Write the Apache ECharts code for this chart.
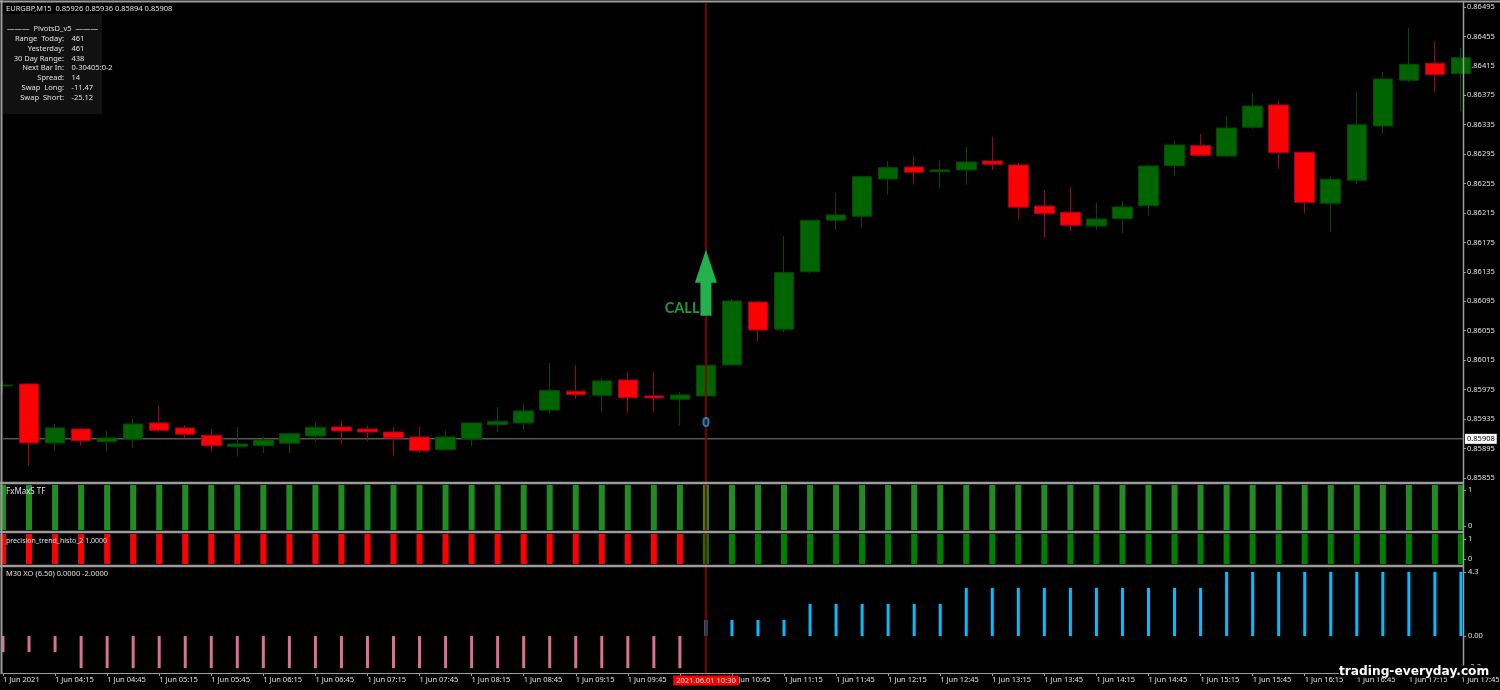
<!DOCTYPE html>
<html>
<head>
<meta charset="utf-8">
<style type="text/css">
    html, body { margin: 0; background: #000; }
    #chart { width: 1500px; height: 690px; }
</style>
<script src="https://cdn.jsdelivr.net/npm/echarts@6/dist/echarts.min.js"></script>
</head>
<body>
<div id="chart"></div>
<script type="text/javascript">
// EURGBP M15, one bar every 15 minutes
var opens = [0.859799,0.859826,0.859024,0.859214,0.859041,0.859074,0.859296,0.859228,0.859129,0.858974,0.858987,0.859020,0.859119,0.859241,0.859214,0.859173,0.859105,0.858933,0.859082,0.859273,0.859296,0.859472,0.859727,0.859672,0.859880,0.859663,0.859618,0.859663,0.860084,0.860940,0.860569,0.861352,0.862051,0.862105,0.862612,0.862775,0.862711,0.862735,0.862857,0.862802,0.862245,0.862160,0.861973,0.862073,0.862249,0.862793,0.863065,0.862925,0.863315,0.863618,0.862975,0.862282,0.862595,0.863333,0.863954,0.864185,0.864043];
var closes = [0.859812,0.859024,0.859228,0.859055,0.859092,0.859282,0.859196,0.859142,0.858987,0.859010,0.859065,0.859150,0.859237,0.859187,0.859173,0.859092,0.858919,0.859105,0.859296,0.859319,0.859459,0.859735,0.859680,0.859867,0.859640,0.859636,0.859676,0.860080,0.860954,0.860560,0.861339,0.862051,0.862123,0.862643,0.862766,0.862703,0.862735,0.862843,0.862812,0.862228,0.862141,0.861983,0.862068,0.862232,0.862789,0.863074,0.862934,0.863305,0.863604,0.862970,0.862295,0.862608,0.863350,0.863971,0.864171,0.864030,0.864261];
var lows = [0.859703,0.858711,0.858919,0.858987,0.858919,0.858956,0.859164,0.859088,0.858906,0.858838,0.858888,0.858888,0.859041,0.859010,0.859051,0.858847,0.858892,0.858919,0.858983,0.859173,0.859201,0.859432,0.859622,0.859445,0.859436,0.859445,0.859255,0.859663,0.860084,0.860393,0.860529,0.861330,0.861915,0.861946,0.862395,0.862535,0.862494,0.862535,0.862735,0.862064,0.861820,0.861905,0.861919,0.861874,0.862109,0.862649,0.862929,0.862911,0.863288,0.862748,0.862141,0.861888,0.862544,0.863224,0.863931,0.863785,0.863536];
var highs = [0.859880,0.859835,0.859282,0.859214,0.859187,0.859350,0.859527,0.859269,0.859214,0.859241,0.859105,0.859150,0.859309,0.859327,0.859255,0.859241,0.859241,0.859201,0.859296,0.859513,0.859558,0.860111,0.860084,0.859907,0.859989,0.859989,0.859717,0.860080,0.860981,0.860954,0.861837,0.862051,0.862426,0.862657,0.862857,0.862911,0.862870,0.863047,0.863187,0.862830,0.862459,0.862503,0.862290,0.862313,0.862789,0.863129,0.863224,0.863464,0.863777,0.863672,0.862975,0.862643,0.863795,0.864067,0.864669,0.864484,0.864389];

var priceTicks = [0.86495,0.86455,0.86415,0.86375,0.86335,0.86295,0.86255,0.86215,0.86175,0.86135,0.86095,0.86055,0.86015,0.85975,0.85935,0.85895,0.85855];
var lastPrice = 0.85908;
var timeLabels = ['1 Jun 2021','1 Jun 04:15','1 Jun 04:45','1 Jun 05:15','1 Jun 05:45','1 Jun 06:15','1 Jun 06:45','1 Jun 07:15','1 Jun 07:45','1 Jun 08:15','1 Jun 08:45','1 Jun 09:15','1 Jun 09:45','1 Jun 10:15','1 Jun 10:45','1 Jun 11:15','1 Jun 11:45','1 Jun 12:15','1 Jun 12:45','1 Jun 13:15','1 Jun 13:45','1 Jun 14:15','1 Jun 14:45','1 Jun 15:15','1 Jun 15:45','1 Jun 16:15','1 Jun 16:45','1 Jun 17:15','1 Jun 17:45'];

var fxMaxValues = [1,1,1,1,1,1,1,1,1,1,1,1,1,1,1,1,1,1,1,1,1,1,1,1,1,1,1,1,1,1,1,1,1,1,1,1,1,1,1,1,1,1,1,1,1,1,1,1,1,1,1,1,1,1,1,1,1];
var trendDown = [1,1,1,1,1,1,1,1,1,1,1,1,1,1,1,1,1,1,1,1,1,1,1,1,1,1,1,0,0,0,0,0,0,0,0,0,0,0,0,0,0,0,0,0,0,0,0,0,0,0,0,0,0,0,0,0,0];
var trendUp = [0,0,0,0,0,0,0,0,0,0,0,0,0,0,0,0,0,0,0,0,0,0,0,0,0,0,0,1,1,1,1,1,1,1,1,1,1,1,1,1,1,1,1,1,1,1,1,1,1,1,1,1,1,1,1,1,1];
var xoValues = [-1,-1,-1,-2,-2,-2,-2,-2,-2,-2,-2,-2,-2,-2,-2,-2,-2,-2,-2,-2,-2,-2,-2,-2,-2,-2,-2,1,1,1,1,2,2,2,2,2,2,3,3,3,3,3,3,3,3,3,3,4,4,4,4,4,4,4,4,4,4];

// where the sub window scale labels sit, and what they read
var fxTickValues = [0.089, 0.889];
var fxTickLabels = ['0', '1'];
var trendTickValues = [0.167, 0.833];
var trendTickLabels = ['0', '1'];
var xoTickValues = [-1.93, 0, 4];
var xoTickLabels = ['-2.3', '0.00', '4.3'];

var signalBar = 27;
var signalTime = '2021.06.01 10:30';
var arrowPoint = [[27, 0.861202]];
var callPoint = [[27, 0.860859]];
var zeroPoint = [[27, 0.859295]];

var headerText = 'EURGBP,M15  0.85926 0.85936 0.85894 0.85908';
var pivotLabels = ['Range  Today:','Yesterday:','30 Day Range:','Next Bar In:','Spread:','Swap  Long:','Swap  Short:'];
var pivotValues = ['461','461','438','0-30405:0-2','14','-11.47','-25.12'];

var textColor = '#e0e0e0';
var frameColor = '#9c9c9c';
var font = '"Noto Sans", sans-serif';

function indexed(list) {
    return list.map(function (v, i) { return [i, v]; });
}

function smallText(text, x, y, align, size) {
    return {
        type: 'text', x: x, y: y, z: 20, silent: true,
        style: { text: text, fill: textColor, font: (size || 7.5) + 'px ' + font, align: align || 'left', verticalAlign: 'middle' }
    };
}

function frameLine(x1, y1, x2, y2, w) {
    return {
        type: 'line', z: 15, silent: true,
        shape: { x1: x1, y1: y1, x2: x2, y2: y2 },
        style: { stroke: frameColor, lineWidth: w }
    };
}

var graphics = [
    { type: 'rect', z: 1, silent: true, shape: { x: 3, y: 14, width: 99, height: 100 }, style: { fill: '#111111' } },
    frameLine(0, 1.5, 1500, 1.5, 2),
    frameLine(1.5, 0, 1.5, 674, 2),
    frameLine(1463.5, 2, 1463.5, 674, 1.5),
    frameLine(0, 483, 1464, 483, 2.5),
    frameLine(0, 532, 1464, 532, 2.5),
    frameLine(0, 566, 1464, 566, 2.5),
    smallText(headerText, 6, 8.5),
    smallText('FxMaxS TF', 6, 492, 'left', 8),
    smallText('precision_trend_histo_2 1.0000', 6, 540.5, 'left', 7),
    smallText('M30 XO (6.50) 0.0000 -2.0000', 6, 574),
    smallText('\u2014\u2014\u2014  PivotsD_v5  \u2014\u2014\u2014', 52.5, 29, 'center'),
    {
        type: 'text', x: 706, y: 680.5, z: 30, silent: true,
        style: {
            text: signalTime, fill: '#f0f0f0', font: '7.5px ' + font, align: 'center', verticalAlign: 'middle',
            backgroundColor: '#ff0000', padding: [1, 3]
        }
    },
    {
        type: 'text', x: 1339, y: 671.5, z: 30, silent: true,
        style: {
            text: 'trading-everyday.com', fill: '#ffffff', font: 'bold 12.2px "DejaVu Sans", sans-serif',
            align: 'left', verticalAlign: 'middle', backgroundColor: '#000', padding: [0, 0]
        }
    }
];
pivotLabels.forEach(function (label, i) {
    graphics.push(smallText(label, 64, 39 + i * 9.75, 'right'));
    graphics.push(smallText(pivotValues[i], 71.5, 39 + i * 9.75));
});

var xBase = { type: 'value', min: 0, max: 56.08, show: false, splitLine: { show: false } };
function xAxisFor(index) {
    return Object.assign({}, xBase, { gridIndex: index });
}

function paneY(index, min, max, ticks, labels) {
    return {
        type: 'value', gridIndex: index, position: 'right', min: min, max: max, scale: true,
        splitLine: { show: false },
        axisLine: { show: false, onZero: false },
        axisTick: { show: true, length: 3, customValues: ticks, lineStyle: { color: frameColor } },
        axisLabel: {
            color: textColor, fontSize: 7.5, fontFamily: font, margin: 5, padding: [3, 0, 0, 0], customValues: ticks,
            formatter: function (v) { return labels[ticks.indexOf(v)]; }
        }
    };
}

function paneGrid(top, height) {
    return { left: 3, width: 1460, top: top, height: height, outerBoundsMode: 'none', containLabel: false };
}

var myChart = echarts.init(document.getElementById('chart'));
var option = {
    animation: false,
    backgroundColor: '#000',
    graphic: graphics,
    grid: [paneGrid(3, 478), paneGrid(485, 45), paneGrid(534, 30), paneGrid(567, 106), paneGrid(3, 670)],
    xAxis: [
        xAxisFor(0), xAxisFor(1), xAxisFor(2),
        {
            type: 'value', gridIndex: 3, min: 0, max: 56.08, interval: 2,
            splitLine: { show: false },
            axisLine: { show: true, onZero: false, lineStyle: { color: frameColor, width: 1 } },
            axisTick: { show: true, length: 3, lineStyle: { color: frameColor } },
            axisLabel: {
                color: textColor, fontSize: 7.5, fontFamily: font, margin: 3, align: 'left',
                showMaxLabel: false, hideOverlap: false,
                formatter: function (v) { return timeLabels[v / 2] || ''; }
            }
        },
        xAxisFor(4)
    ],
    yAxis: [
        {
            type: 'value', gridIndex: 0, position: 'right', min: 0.858507, max: 0.865004, scale: true,
            splitLine: { show: false },
            axisLine: { show: false, onZero: false },
            axisTick: { show: true, length: 3, customValues: priceTicks, lineStyle: { color: frameColor } },
            axisLabel: {
                color: textColor, fontSize: 7.5, fontFamily: font, margin: 4, padding: [3, 0, 0, 0], customValues: priceTicks,
                formatter: function (v) { return v.toFixed(5); }
            }
        },
        paneY(1, 0, 1, fxTickValues, fxTickLabels),
        paneY(2, 0, 1, trendTickValues, trendTickLabels),
        paneY(3, -2.3, 4.3, xoTickValues, xoTickLabels),
        { type: 'value', gridIndex: 4, min: 0, max: 1, show: false, splitLine: { show: false } }
    ],
    series: [
        {
            type: 'candlestick', xAxisIndex: 0, yAxisIndex: 0, barWidth: 20, z: 3,
            itemStyle: { color: '#006400', color0: '#ff0000', borderColor: '#004b00', borderColor0: '#a00028', borderWidth: 1 },
            data: opens.map(function (o, i) { return [i, o, closes[i], lows[i], highs[i]]; })
        },
        {
            type: 'line', xAxisIndex: 0, yAxisIndex: 0, z: 2, silent: true, symbol: 'none',
            lineStyle: { color: '#808080', width: 1 },
            endLabel: {
                show: true, distance: 2, color: '#000', backgroundColor: '#fff',
                fontSize: 7.5, fontFamily: font, padding: [1, 2],
                formatter: function () { return lastPrice.toFixed(5); }
            },
            data: [[0, lastPrice], [56.08, lastPrice]]
        },
        {
            type: 'bar', xAxisIndex: 1, yAxisIndex: 1, barWidth: 6, z: 2,
            itemStyle: { color: '#228b22' }, data: indexed(fxMaxValues)
        },
        {
            type: 'bar', xAxisIndex: 2, yAxisIndex: 2, barWidth: 6, stack: 'trend', z: 2,
            itemStyle: { color: '#ff0000' }, data: indexed(trendDown)
        },
        {
            type: 'bar', xAxisIndex: 2, yAxisIndex: 2, barWidth: 6, stack: 'trend', z: 2,
            itemStyle: { color: '#008000' }, data: indexed(trendUp)
        },
        {
            type: 'bar', xAxisIndex: 3, yAxisIndex: 3, barWidth: 3, z: 2,
            itemStyle: {
                color: function (p) { return p.value[1] < 0 ? '#db7093' : '#00bfff'; }
            },
            data: indexed(xoValues)
        },
        {
            type: 'line', xAxisIndex: 4, yAxisIndex: 4, z: 5, silent: true, symbol: 'none',
            lineStyle: { color: '#8b0000', width: 2, opacity: 0.9 },
            data: [[signalBar, 0], [signalBar, 1]]
        },
        {
            type: 'scatter', xAxisIndex: 0, yAxisIndex: 0, z: 6, silent: true,
            symbol: 'path://M11 0 L22 33 L16.5 33 L16.5 66 L5.5 66 L5.5 33 L0 33 Z', symbolSize: [22, 66],
            itemStyle: { color: '#22b14c', opacity: 1 },
            data: arrowPoint
        },
        {
            type: 'scatter', xAxisIndex: 0, yAxisIndex: 0, z: 6, silent: true,
            symbolSize: 1, itemStyle: { color: 'transparent' },
            label: {
                show: true, position: 'left', distance: 6, color: '#28bb54',
                fontFamily: 'Lato, sans-serif', fontWeight: 'bold', fontSize: 14.5,
                formatter: 'CALL'
            },
            data: callPoint
        },
        {
            type: 'scatter', xAxisIndex: 0, yAxisIndex: 0, z: 6, silent: true,
            symbolSize: 1, itemStyle: { color: 'transparent' },
            label: {
                show: true, position: 'inside', color: '#12a9f5',
                fontFamily: '"Noto Sans", sans-serif', fontWeight: 'bold', fontSize: 14,
                formatter: '0'
            },
            data: zeroPoint
        }
    ]
};
myChart.setOption(option);
</script>
</body>
</html>
